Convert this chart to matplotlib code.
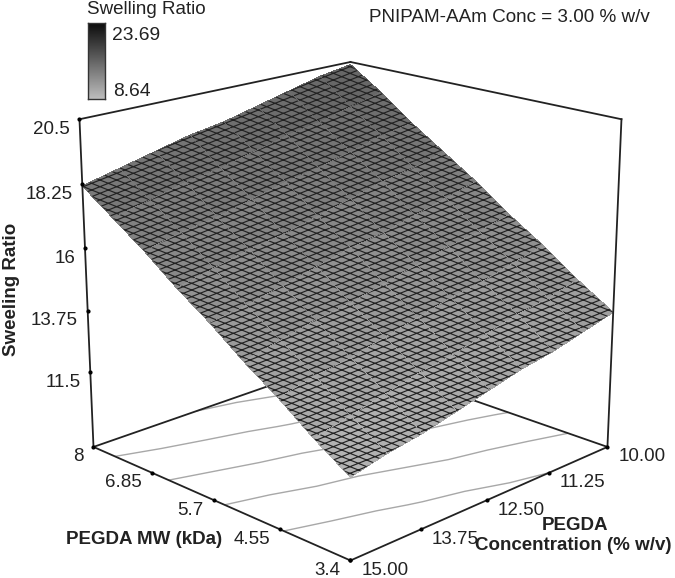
import matplotlib
matplotlib.use('Agg')
import matplotlib.pyplot as plt
import matplotlib.hatch as mhatch
from matplotlib.path import Path
import numpy as np
from matplotlib.colors import LinearSegmentedColormap, Normalize
from mpl_toolkits.mplot3d import proj3d

# axes ticks
conc_ticks = [10.00, 11.25, 12.50, 13.75, 15.00]
mw_ticks = [8, 6.85, 5.7, 4.55, 3.4]
mw_tick_labels = ['8', '6.85', '5.7', '4.55', '3.4']
z_ticks = [11.5, 13.75, 16, 18.25, 20.5]
z_min = 8.7

# surface, rows go with mw_values, columns with conc_values
conc_values = [10.0, 10.625, 11.25, 11.875, 12.5, 13.125, 13.75, 14.375, 15.0]
mw_values = [3.4, 3.975, 4.55, 5.125, 5.7, 6.275, 6.85, 7.425, 8.0]
swelling = [
    [13.7, 13.4, 13.1, 12.9, 12.6, 12.3, 12.0, 11.8, 11.5],
    [14.5, 14.2, 14.0, 13.7, 13.4, 13.2, 12.9, 12.6, 12.3],
    [15.4, 15.1, 14.8, 14.6, 14.3, 14.0, 13.7, 13.5, 13.2],
    [16.2, 15.9, 15.7, 15.4, 15.1, 14.8, 14.6, 14.3, 14.0],
    [17.1, 16.8, 16.5, 16.2, 16.0, 15.7, 15.4, 15.1, 14.9],
    [17.9, 17.6, 17.4, 17.1, 16.8, 16.5, 16.3, 16.0, 15.7],
    [18.7, 18.5, 18.2, 17.9, 17.7, 17.4, 17.1, 16.9, 16.6],
    [19.6, 19.3, 19.0, 18.8, 18.5, 18.2, 18.0, 17.7, 17.4],
    [20.4, 20.2, 19.9, 19.6, 19.3, 19.1, 18.8, 18.5, 18.2],
]
contour_levels = [13.1, 14.6, 16.1, 17.6, 19.1]
legend_min = 8.64
legend_max = 23.69

W, H = 675, 578


class MeshHatch(mhatch.HatchPatternBase):
    """Shallow crossed lines that look like the mesh on the surface."""
    n_lines = 15
    rise = 6

    def __init__(self, hatch, density):
        count = (self.n_lines + self.rise) * 2 if 'x' in hatch else 0
        self.num_vertices = count * 2

    def set_vertices_and_codes(self, vertices, codes):
        start = np.arange(-self.rise, self.n_lines) / self.n_lines
        end = start + self.rise / self.n_lines
        vertices[0::4] = np.column_stack([np.zeros_like(start), start])
        vertices[1::4] = np.column_stack([np.ones_like(start), end])
        vertices[2::4] = np.column_stack([np.ones_like(start), start])
        vertices[3::4] = np.column_stack([np.zeros_like(start), end])
        codes[0::2] = Path.MOVETO
        codes[1::2] = Path.LINETO


mhatch._hatch_types[:] = [MeshHatch]

plt.rcParams['font.family'] = ['Liberation Sans', 'DejaVu Sans']
plt.rcParams['hatch.linewidth'] = 0.85

cmap = LinearSegmentedColormap.from_list('greys', ['#bdbdbd', '#0c0c0c'])
surf_cmap = LinearSegmentedColormap.from_list('surf_greys', ['#d0d0d0', '#404040'])
norm = Normalize(legend_min, legend_max)

fig = plt.figure(figsize=(W / 100, H / 100), dpi=100)
side = 612
ax = fig.add_axes([36.2 / W, -23.7 / H, side / W, side / H], projection='3d', computed_zorder=False)
ax.set_axis_off()

X, Y = np.meshgrid(conc_values, mw_values)
Z = np.array(swelling)

c_lo, c_hi = conc_ticks[0], conc_ticks[-1]
m_lo, m_hi = mw_ticks[-1], mw_ticks[0]
z_hi = z_ticks[-1]
line = dict(color='#222222', linewidth=1.3)

# floor contours go first, the surface covers them
ax.contour(X, Y, Z, levels=contour_levels, zdir='z', offset=z_min, colors='#a8a8a8', linewidths=1.0, zorder=1)
ax.plot([c_hi, c_lo], [m_hi, m_hi], [z_min, z_min], zorder=2, **line)
ax.plot([c_lo, c_lo], [m_hi, m_lo], [z_min, z_min], zorder=2, **line)
ax.plot([c_hi, c_lo], [m_hi, m_hi], [z_hi, z_hi], zorder=2, **line)
ax.plot([c_lo, c_lo], [m_hi, m_lo], [z_hi, z_hi], zorder=2, **line)

surf = ax.plot_surface(X, Y, Z, rcount=9, ccount=9, facecolors=surf_cmap(norm(Z)), shade=False,
                       linewidth=0, antialiased=False, hatch='x', zorder=3)
surf.set_edgecolor('#222222')  # hatch takes this colour

# edges in front of the surface
ax.plot([c_hi, c_hi], [m_hi, m_hi], [z_min, z_hi], zorder=4, **line)
ax.plot([c_lo, c_lo], [m_lo, m_lo], [z_min, z_hi], zorder=4, **line)
ax.plot([c_hi, c_hi], [m_hi, m_lo], [z_min, z_min], zorder=4, **line)
ax.plot([c_hi, c_lo], [m_lo, m_lo], [z_min, z_min], zorder=4, **line)

# tick dots
dot = dict(color='black', s=4, depthshade=False, zorder=5)
ax.scatter(conc_ticks, [m_lo] * len(conc_ticks), [z_min] * len(conc_ticks), **dot)
ax.scatter([c_hi] * len(mw_ticks), mw_ticks, [z_min] * len(mw_ticks), **dot)
ax.scatter([c_hi] * len(z_ticks), [m_hi] * len(z_ticks), z_ticks, **dot)

ax.set_xlim(c_lo, c_hi)
ax.set_ylim(m_hi, m_lo)
ax.set_zlim(z_min, z_hi)
ax.set_box_aspect((1, 1, 0.925))
ax.set_proj_type('persp', focal_length=0.62)
ax.view_init(elev=18.4, azim=45)

M = ax.get_proj()


def tick_label(x, y, z, text, dx, dy, ha):
    px, py, _ = proj3d.proj_transform(x, y, z, M)
    ax.annotate(text, (px, py), xytext=(dx, dy), textcoords='offset pixels', ha=ha, va='center',
                fontsize=13.5, color='#222222', annotation_clip=False)


for value in z_ticks:
    tick_label(c_hi, m_hi, value, f'{value:g}', -10, -10, 'right')
for value, text in zip(mw_ticks, mw_tick_labels):
    tick_label(c_hi, value, z_min, text, -10, -10, 'right')
for value in conc_ticks:
    tick_label(value, m_lo, z_min, f'{value:.2f}', 11, -10, 'left')


def fig_text(x, y, text, **kwargs):
    # x, y in pixels of the picture, from its top left
    fig.text(x / W, 1 - y / H, text, va='center', color='#222222', **kwargs)


fig_text(12, 289, 'Sweeling Ratio', rotation=90, ha='center', fontsize=13.5, fontweight='bold')
fig_text(66, 540, 'PEGDA MW (kDa)', ha='left', fontsize=13.5, fontweight='bold')
fig_text(575, 525, 'PEGDA', ha='center', fontsize=13.5, fontweight='bold')
fig_text(475, 545, 'Concentration (% w/v)', ha='left', fontsize=13.5, fontweight='bold')
fig_text(369, 17, 'PNIPAM-AAm Conc = 3.00 % w/v', ha='left', fontsize=13.6)
fig_text(87, 10, 'Swelling Ratio', ha='left', fontsize=13.5)
fig_text(112, 35, f'{legend_max:.2f}', ha='left', fontsize=13.9)
fig_text(113, 91, f'{legend_min:.2f}', ha='left', fontsize=13.9)

# colour legend
cax = fig.add_axes([88 / W, 1 - 99 / H, 17 / W, 76 / H])
cax.imshow(np.linspace(legend_max, legend_min, 128)[:, None], cmap=cmap, norm=norm, aspect='auto')
cax.set_xticks([])
cax.set_yticks([])
for spine in cax.spines.values():
    spine.set_color('#333333')
    spine.set_linewidth(1.0)

fig.savefig('out.png', dpi=100)
